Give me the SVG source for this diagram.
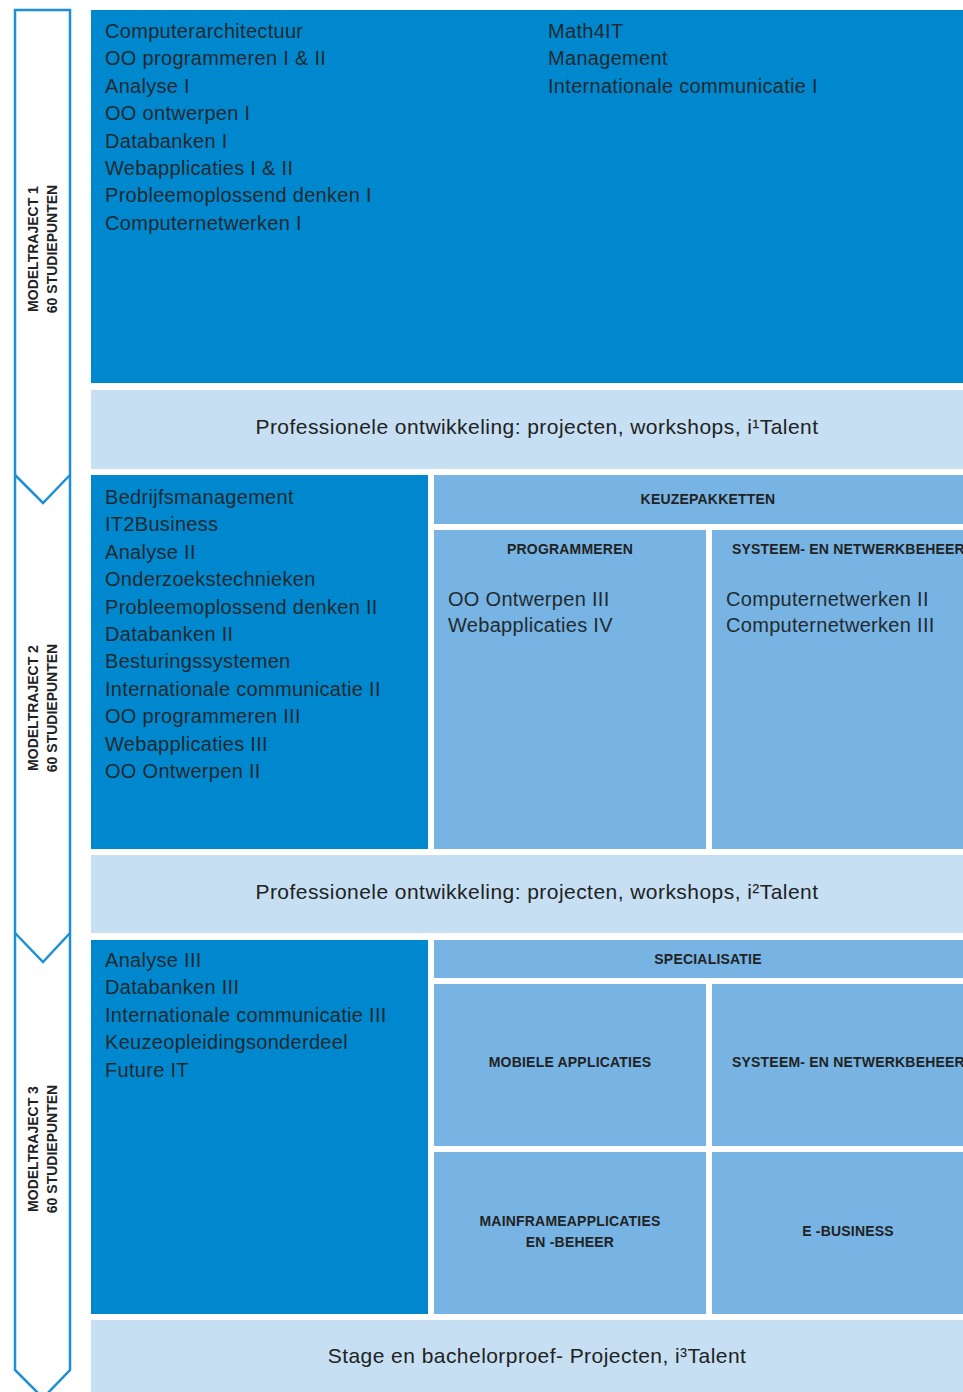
<svg xmlns="http://www.w3.org/2000/svg" width="963" height="1392" viewBox="0 0 963 1392">
<style>
.dark{fill:#0088cf}
.light{fill:#c6dff3}
.mid{fill:#77b4e3}
.body{font-family:"Liberation Sans",Arial,sans-serif;font-size:20px;fill:#222a30;letter-spacing:0.3px}
.band{font-family:"Liberation Sans",Arial,sans-serif;font-size:21px;fill:#222;text-anchor:middle;letter-spacing:0.45px}
.head{font-family:"Liberation Sans",Arial,sans-serif;font-size:14px;font-weight:bold;fill:#222;letter-spacing:0.2px}
.mid-t{text-anchor:middle}
.side{font-family:"Liberation Sans",Arial,sans-serif;font-size:14px;font-weight:bold;fill:#222;text-anchor:middle}
.arrow{fill:none;stroke:#1b8fd7;stroke-width:2.5}
</style>
<rect width="963" height="1392" fill="#ffffff"/>
<g id="connectors">
<polygon class="arrow" points="15,10 70,10 70,1370 43,1398 15,1370"/>
<polyline class="arrow" points="15,475 43,503 70,475"/>
<polyline class="arrow" points="15,933 43,962 70,933"/>
</g>
<g id="label1">
<text class="side" transform="translate(38,249) rotate(-90)">MODELTRAJECT 1</text>
<text class="side" transform="translate(57,249) rotate(-90)">60 STUDIEPUNTEN</text>
</g>
<g id="label2">
<text class="side" transform="translate(38,708) rotate(-90)">MODELTRAJECT 2</text>
<text class="side" transform="translate(57,708) rotate(-90)">60 STUDIEPUNTEN</text>
</g>
<g id="label3">
<text class="side" transform="translate(38,1149) rotate(-90)">MODELTRAJECT 3</text>
<text class="side" transform="translate(57,1149) rotate(-90)">60 STUDIEPUNTEN</text>
</g>
<g id="year1">
<rect class="dark" x="91" y="10" width="872" height="373"/>
<text class="body" x="105" y="38">Computerarchitectuur</text>
<text class="body" x="105" y="65.4">OO programmeren I &amp; II</text>
<text class="body" x="105" y="92.8">Analyse I</text>
<text class="body" x="105" y="120.2">OO ontwerpen I</text>
<text class="body" x="105" y="147.6">Databanken I</text>
<text class="body" x="105" y="175">Webapplicaties I &amp; II</text>
<text class="body" x="105" y="202.4">Probleemoplossend denken I</text>
<text class="body" x="105" y="229.8">Computernetwerken I</text>
<text class="body" x="548" y="38">Math4IT</text>
<text class="body" x="548" y="65.4">Management</text>
<text class="body" x="548" y="92.8">Internationale communicatie I</text>
</g>
<g id="prof1">
<rect class="light" x="91" y="390" width="872" height="79"/>
<text class="band" x="537" y="434">Professionele ontwikkeling: projecten, workshops, i¹Talent</text>
</g>
<g id="year2">
<rect class="dark" x="91" y="475" width="337" height="374"/>
<text class="body" x="105" y="504">Bedrijfsmanagement</text>
<text class="body" x="105" y="531.4">IT2Business</text>
<text class="body" x="105" y="558.8">Analyse II</text>
<text class="body" x="105" y="586.2">Onderzoekstechnieken</text>
<text class="body" x="105" y="613.6">Probleemoplossend denken II</text>
<text class="body" x="105" y="641">Databanken II</text>
<text class="body" x="105" y="668.4">Besturingssystemen</text>
<text class="body" x="105" y="695.8">Internationale communicatie II</text>
<text class="body" x="105" y="723.2">OO programmeren III</text>
<text class="body" x="105" y="750.6">Webapplicaties III</text>
<text class="body" x="105" y="778">OO Ontwerpen II</text>
</g>
<g id="keuzepakketten">
<rect class="mid" x="434" y="475" width="529" height="49"/>
<text class="head mid-t" x="708" y="504">KEUZEPAKKETTEN</text>
</g>
<g id="programmeren">
<rect class="mid" x="434" y="530" width="272" height="319"/>
<text class="head mid-t" x="570" y="554">PROGRAMMEREN</text>
<text class="body" x="448" y="606">OO Ontwerpen III</text>
<text class="body" x="448" y="632">Webapplicaties IV</text>
</g>
<g id="systeem1">
<rect class="mid" x="712" y="530" width="251" height="319"/>
<text class="head" x="732" y="554">SYSTEEM- EN NETWERKBEHEER</text>
<text class="body" x="726" y="606">Computernetwerken II</text>
<text class="body" x="726" y="632">Computernetwerken III</text>
</g>
<g id="prof2">
<rect class="light" x="91" y="855" width="872" height="78"/>
<text class="band" x="537" y="899">Professionele ontwikkeling: projecten, workshops, i²Talent</text>
</g>
<g id="year3">
<rect class="dark" x="91" y="940" width="337" height="374"/>
<text class="body" x="105" y="967">Analyse III</text>
<text class="body" x="105" y="994.4">Databanken III</text>
<text class="body" x="105" y="1021.8">Internationale communicatie III</text>
<text class="body" x="105" y="1049.2">Keuzeopleidingsonderdeel</text>
<text class="body" x="105" y="1076.6">Future IT</text>
</g>
<g id="specialisatie">
<rect class="mid" x="434" y="940" width="529" height="38"/>
<text class="head mid-t" x="708" y="964">SPECIALISATIE</text>
</g>
<g id="mobiele">
<rect class="mid" x="434" y="984" width="272" height="162"/>
<text class="head mid-t" x="570" y="1067">MOBIELE APPLICATIES</text>
</g>
<g id="systeem2">
<rect class="mid" x="712" y="984" width="251" height="162"/>
<text class="head" x="732" y="1067">SYSTEEM- EN NETWERKBEHEER</text>
</g>
<g id="mainframe">
<rect class="mid" x="434" y="1152" width="272" height="162"/>
<text class="head mid-t" x="570" y="1226">MAINFRAMEAPPLICATIES</text>
<text class="head mid-t" x="570" y="1247">EN -BEHEER</text>
</g>
<g id="ebusiness">
<rect class="mid" x="712" y="1152" width="251" height="162"/>
<text class="head mid-t" x="848" y="1236">E -BUSINESS</text>
</g>
<g id="stage">
<rect class="light" x="91" y="1320" width="872" height="72"/>
<text class="band" x="537" y="1363">Stage en bachelorproef- Projecten, i³Talent</text>
</g>
</svg>
